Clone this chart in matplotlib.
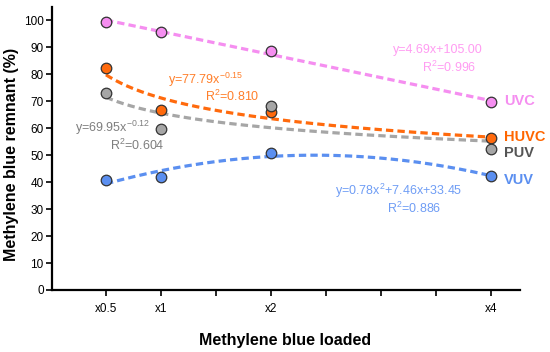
import numpy as np
import matplotlib
matplotlib.use("Agg")
import matplotlib.pyplot as plt

plt.rcParams['font.family'] = ['Liberation Sans', 'DejaVu Sans']
plt.rcParams['mathtext.fontset'] = 'custom'
plt.rcParams['mathtext.rm'] = 'Liberation Sans'
plt.rcParams['mathtext.it'] = 'Liberation Sans'

x_vals = [0.5, 1, 2, 4]
tick_pos = [0.5, 1, 1.5, 2, 2.5, 3, 3.5, 4]
tick_labels = ["x0.5", "x1", "", "x2", "", "", "", "x4"]

uvc = [99.5, 95.8, 88.6, 69.7]
huvc = [82.3, 66.8, 66.0, 56.5]
puv = [73.0, 59.8, 68.2, 52.4]
vuv = [40.7, 42.0, 50.7, 42.2]

# name, values, fit type, line colour, label colour
series = [
    ("UVC", uvc, "lin", "#f58ef0", "#f58ef0"),
    ("HUVC", huvc, "pow", "#ff6a0d", "#ff6600"),
    ("PUV", puv, "pow", "#a6a6a6", "#555555"),
    ("VUV", vuv, "quad", "#5b8ff0", "#5b8ff0"),
]

equations = [
    ("y=4.69x+105.00", "R$^2$=0.996", "#ff9cf2", (483, 50), (476, 67)),
    ("y=77.79x$^{-0.15}$", "R$^2$=0.810", "#ff7f2a", (243, 80), (259, 96)),
    ("y=69.95x$^{-0.12}$", "R$^2$=0.604", "#7f7f7f", (150, 128), (165, 145)),
    ("y=0.78x$^2$+7.46x+33.45", "R$^2$=0.886", "#6f9df5", (462, 191), (441, 208)),
]
label_pos = {"UVC": 101, "HUVC": 137, "PUV": 153, "VUV": 180}

W, H = 550, 352
fig = plt.figure(figsize=(5.5, 3.52), dpi=100)
ax = fig.add_axes([52 / W, (H - 290) / H, (520 - 52) / W, (290 - 7) / H])

xs = np.linspace(0.5, 4, 200)
for name, vals, kind, col, lcol in series:
    if kind == "lin":
        yfit = np.polyval(np.polyfit(x_vals, vals, 1), xs)
    elif kind == "quad":
        yfit = np.polyval(np.polyfit(x_vals, vals, 2), xs)
    else:
        b, lna = np.polyfit(np.log(x_vals), np.log(vals), 1)
        yfit = np.exp(lna) * xs ** b
    ax.plot(xs, yfit, ls=(0, (2.3, 1.3)), lw=2.3, color=col, zorder=2)
    ax.plot(x_vals, vals, 'o', ms=7.6, mfc=col, mec="#333333", mew=0.9, zorder=3)
    fig.text(504 / W, 1 - label_pos[name] / H, name,
             color=lcol, fontsize=10.5, fontweight='bold', ha='left', va='center')

for e1, e2, col, p1, p2 in equations:
    fig.text(p1[0] / W, 1 - p1[1] / H, e1, color=col, fontsize=9, ha='right', va='center')
    fig.text(p2[0] / W, 1 - p2[1] / H, e2, color=col, fontsize=9, ha='right', va='center')

ax.set_xlim(0.01, 4.26)
ax.set_ylim(0, 105)
ax.set_xticks(tick_pos)
ax.set_xticklabels(tick_labels, fontsize=8.5)
ax.set_yticks(range(0, 101, 10))
ax.set_yticklabels([str(v) for v in range(0, 101, 10)], fontsize=8.5)
for s in ['top', 'right']:
    ax.spines[s].set_visible(False)
for s in ['left', 'bottom']:
    ax.spines[s].set_linewidth(1.6)
ax.tick_params(axis='both', direction='out', length=4, width=1.2, pad=2)
ax.tick_params(axis='x', pad=5)

fig.text(285 / W, 1 - 340 / H, "Methylene blue loaded", fontsize=11.5,
         fontweight='bold', ha='center', va='center')
fig.text(12 / W, 1 - 154 / H, "Methylene blue remnant (%)", fontsize=11.5,
         fontweight='bold', ha='center', va='center', rotation=90)

fig.savefig("out.png", dpi=100)
